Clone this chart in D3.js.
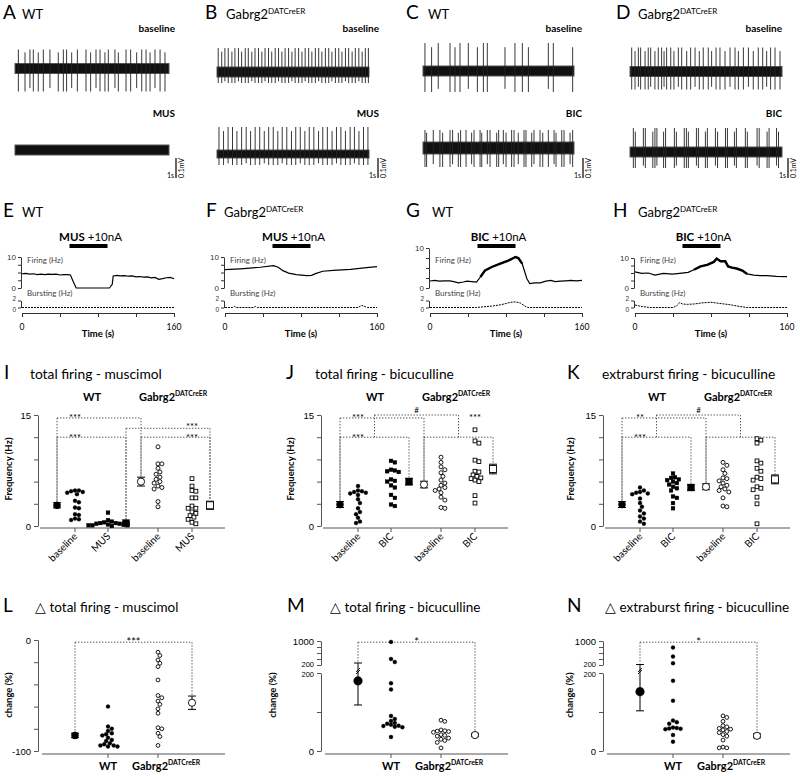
<!DOCTYPE html>
<html>
<head>
<meta charset="utf-8">
<script src="https://cdn.jsdelivr.net/npm/d3@7"></script>
<style>
  body { margin: 0; background: #fff; }
  svg { font-family: Lato, "Open Sans", sans-serif; }
</style>
</head>
<body>
<svg id="fig" width="800" height="776"></svg>
<script>
// ---------------- data ----------------
// A-D: spike times (s) inside 10 s extracellular traces
const spikesAbase = [0.22,0.65,0.97,1.19,1.51,1.84,2.27,2.81,3.14,3.35,3.68,4.05,4.61,4.91,5.26,5.52,5.84,6.06,6.49,6.71,7.21,7.51,7.90,8.23,8.51,8.77,9.09,9.42,9.74];
const spikesAmus = [];
const spikesBbase = [0.08,0.31,0.52,0.74,0.98,1.18,1.41,1.62,1.86,2.06,2.29,2.50,2.73,2.95,3.16,3.39,3.60,3.83,4.05,4.27,4.48,4.71,4.93,5.14,5.37,5.59,5.80,6.03,6.24,6.47,6.69,6.90,7.13,7.35,7.56,7.79,8.01,8.22,8.45,8.66,8.89,9.10,9.33,9.55,9.76,9.96];
const spikesBmus = [0.13,0.43,0.73,1.02,1.31,1.62,1.92,2.21,2.51,2.81,3.11,3.40,3.70,4.00,4.29,4.59,4.90,5.18,5.48,5.78,6.07,6.37,6.68,6.96,7.26,7.57,7.86,8.15,8.45,8.76,9.04,9.34,9.64,9.93];
const spikesCbase = [0.13,0.57,1.01,1.79,2.12,2.45,3.00,3.60,4.00,4.26,5.43,6.09,6.58,6.98,8.30,8.63,9.91];
const spikesCbic = [0.13,0.24,0.68,1.12,1.30,1.79,1.96,2.34,2.49,2.85,3.22,3.38,3.78,3.89,4.26,4.44,4.88,5.01,5.32,5.50,5.87,6.03,6.31,6.69,6.82,7.20,7.35,7.75,7.93,8.30,8.68,8.81,9.19,9.34,9.74,9.91];
const spikesDbase = [0.11,0.33,0.55,0.70,0.99,1.20,1.36,1.64,1.86,2.08,2.24,2.41,2.68,2.89,3.18,3.40,3.73,3.99,4.28,4.56,4.82,5.15,5.37,5.66,5.92,6.25,6.58,6.91,7.13,7.46,7.79,8.11,8.44,8.73,8.99,9.25,9.54,9.87];
const spikesDbic = [0.22,0.35,0.88,1.01,1.50,1.64,1.77,2.21,2.34,2.92,3.05,3.57,3.71,3.84,4.37,4.50,4.96,5.09,5.62,5.76,6.28,6.41,6.87,7.00,7.59,7.72,8.36,8.50,9.02,9.15,9.64,9.77];

// E-H: rate traces [time s, Hz]
const firingE = [[0,4.6],[4,4.7],[8,4.5],[12,4.6],[16,4.3],[20,4.5],[24,4.3],[28,4.5],[32,4.4],[36,4.5],[40,4.2],[44,4.3],[48,4.3],[51,4.2],[54,2.0],[57,0],[92,0],[95,1.2],[96,3.9],[100,4.1],[104,3.9],[108,4.0],[112,3.8],[116,3.9],[120,3.6],[124,3.7],[128,3.5],[132,3.6],[136,3.3],[140,3.4],[144,2.8],[148,3.0],[152,3.3],[156,3.4],[160,3.0]];
const burstE = [[0,0],[160,0]];
const firingF = [[0,5.9],[16,6.2],[37,6.7],[51,7.2],[56,6.7],[61,5.6],[67,4.8],[75,4.3],[86,4.0],[91,4.1],[96,4.7],[103,5.4],[114,5.7],[132,6.0],[149,6.6],[160,6.9]];
const burstF = [[0,0],[8,0],[10,0.3],[12,0],[30,0],[32,0.3],[34,0],[140,0],[144,0.6],[148,0.2],[150,0],[160,0]];
const firingG = [[0,1.75],[5,1.9],[10,1.7],[15,1.8],[21,1.8],[25,1.6],[30,1.3],[35,1.5],[39,1.7],[44,1.6],[49,1.5],[53,2.75],[58,4.4],[65,5.25],[74,6.1],[83,6.9],[90,7.75],[93,7.5],[97,6.1],[102,2.3],[105,1.1],[110,1.3],[116,1.3],[122,1.7],[127,1.9],[132,1.6],[137,1.7],[143,1.8],[148,1.9],[154,1.8],[160,1.9]];
const burstG = [[0,0],[48,0],[55,0.15],[65,0.4],[75,0.8],[85,1.5],[90,1.6],[95,1.3],[100,0.4],[103,0],[160,0]];
const firingH = [[0,5.4],[7,4.9],[14,5.0],[21,4.3],[30,4.9],[39,4.6],[47,4.9],[56,5.2],[62,6.1],[69,7.2],[76,7.7],[83,8.7],[86,9.8],[90,8.9],[95,8.9],[98,7.2],[102,6.8],[107,6.5],[113,5.8],[118,4.7],[125,4.3],[132,4.1],[139,4.1],[149,3.9],[160,3.8]];
const burstH = [[0,0.7],[5,0.4],[12,0.1],[16,0],[40,0],[44,0.5],[47,1.4],[50,1.0],[55,0.9],[62,1.0],[70,1.3],[80,1.5],[88,1.2],[100,0.8],[110,0.3],[118,0],[160,0]];

// I-K: frequency (Hz) per cell; groups = WT baseline, WT drug, KO baseline, KO drug
const iWTbase = [4.8,4.8,4.7,4.6,4.5,4.3,3.4,3.2,2.5,2.4,1.6,1.5,1.0,0.9,0.8];
const iWTmus  = [1.8,0.8,0.6,0.5,0.4,0.4,0.3,0.3,0.2,0.2,0.1,0.1,0.1,0.0];
const iKObase = [10.7,8.4,8.4,7.8,7.3,7.0,6.6,6.3,6.0,5.8,5.4,5.2,5.0,3.3,2.6];
const iKOmus  = [6.4,5.4,4.8,4.7,3.8,3.8,2.7,2.4,2.4,1.9,1.7,1.4,1.2,0.9,0.5,0.3];
const iMean = [2.8,0.4,6.0,2.8];
const iSem  = [0.35,0.15,0.6,0.55];

const jWTbase = [5.4,4.8,4.7,4.6,4.5,4.4,4.2,3.6,3.1,2.4,1.9,1.6,1.1,0.6,0.4];
const jWTbic  = [8.8,8.6,7.6,7.5,7.4,7.3,6.3,6.1,6.0,5.5,5.2,4.2,3.8,2.9,2.7];
const jKObase = [9.3,8.6,8.0,7.6,7.2,6.7,6.2,5.8,5.5,5.2,5.0,4.8,4.5,3.9,3.5,2.5,2.4];
const jKObic  = [13.0,11.5,11.2,8.9,8.7,7.4,7.3,6.9,6.7,6.5,6.4,6.2,6.0,4.1,3.1];
const jMean = [2.9,6.0,5.6,7.7];
const jSem  = [0.4,0.45,0.45,0.65];

const kWTbase = [5.2,4.8,4.6,4.5,4.4,4.3,3.7,3.1,2.6,2.1,1.7,1.3,1.0,0.6,0.3];
const kWTbic  = [7.1,6.6,6.5,6.3,6.2,6.0,5.8,5.6,5.3,5.1,4.8,4.0,3.8,3.1,2.4];
const kKObase = [8.6,8.2,7.6,7.1,6.5,6.4,6.1,5.8,5.5,5.3,5.0,4.8,4.6,3.8,2.7,2.6];
const kKObic  = [11.8,11.6,11.2,8.8,8.5,7.8,7.4,6.6,6.4,6.2,5.3,5.1,4.9,3.9,3.0,0.3];
const kMean = [2.9,5.2,5.3,6.3];
const kSem  = [0.4,0.35,0.4,0.6];

const muscimolTicks = ['baseline','MUS','baseline','MUS'];
const bicTicks = ['baseline','BIC','baseline','BIC'];

// L-N: change (%) per cell
const lWT = [-60,-78,-80,-82,-84,-85,-86,-88,-90,-91,-93,-94,-95,-95,-96,-96];
const lKO = [-11,-14,-18,-21,-24,-36,-50,-52,-55,-58,-62,-66,-79,-80,-84,-87,-95];
const lMean = [-86,-56.5];
const lLow  = [-88,-62.5];
const lHigh = [-84,-50.5];

const mWT = [970,400,300,174,158,90,82,77,72,70,67,65,64,62,61,36];
const mKO = [79,76,54,52,51,50,48,42,40,38,33,30,27,22,8];
const mMean = [180,41];
const mLow  = [118,37];
const mHigh = [267,45];

const nWT = [780,480,260,180,129,78,74,70,60,59,58,57,56,41,24];
const nKO = [90,86,76,65,62,58,56,54,50,47,42,38,28,10,8,8];
const nMean = [152,39];
const nLow  = [103,34];
const nHigh = [215,44];

// significance annotations (slot indices, levels in data units)
const iBrackets = [
  {a:0, b:4, lvl:14.6, txt:'***', tx:1},
  {a:0, b:3, lvl:12.0, txt:'***', tx:1},
  {a:3, b:7, lvl:13.2, txt:'***', tx:6, tl:13.5},
  {a:4, b:7, lvl:12.0, txt:'***', tx:6}
];
const jBrackets = [
  {a:0, b:4, lvl:14.6, txt:'***', tx:1},
  {a:0, b:3, lvl:12.0, txt:'***', tx:1},
  {a:4, b:7, lvl:12.0, txt:'***', tx:6, tl:14.6}
];
const kBrackets = [
  {a:0, b:4, lvl:14.6, txt:'**', tx:1},
  {a:0, b:3, lvl:12.0, txt:'***', tx:1},
  {a:4, b:7, lvl:12.0, txt:'', tx:6}
];

// ---------------- drawing ----------------
const svg = d3.select('#fig');
const DOT = '1.4,1.6';

function letter(x, y, s) {
  svg.append('text').attr('x', x).attr('y', y).attr('font-size', 19).text(s);
}
function geno(sel, x, y, isWT, size, anchor, bold) {
  const t = sel.append('text').attr('x', x).attr('y', y).attr('font-size', size)
    .attr('text-anchor', anchor || 'start').attr('font-weight', bold ? 'bold' : 'normal');
  if (isWT) t.text('WT');
  else {
    t.append('tspan').text('Gabrg2');
    t.append('tspan').attr('font-size', size * 0.62).attr('dy', -size * 0.42).text('DATCreER');
  }
  return t;
}

// --- A-D raw traces ---
const tracePanels = [
  {L:'A', wt:true,  lx:3,   gx:22,  x0:15,  x1:169, labX:175, bar:176,
   rows:[{sp:spikesAbase, yc:68.5, band:10, up:19, dn:23, lab:'baseline', ly:32},
         {sp:spikesAmus,  yc:150,  band:10, up:0,  dn:0,  lab:'MUS', ly:117}]},
  {L:'B', wt:false, lx:205, gx:226, x0:217, x1:369, labX:379, bar:378,
   rows:[{sp:spikesBbase, yc:72,  band:10, up:24, dn:11, lab:'baseline', ly:32},
         {sp:spikesBmus,  yc:154, band:8,  up:27, dn:11, lab:'MUS', ly:117}]},
  {L:'C', wt:true,  lx:406, gx:428, x0:423, x1:574, labX:582, bar:583,
   rows:[{sp:spikesCbase, yc:71,  band:10, up:28, dn:21, lab:'baseline', ly:32},
         {sp:spikesCbic,  yc:148, band:12, up:18, dn:19, lab:'BIC', ly:117}]},
  {L:'D', wt:false, lx:616, gx:638, x0:630, x1:782, labX:782, bar:788,
   rows:[{sp:spikesDbase, yc:71.5, band:10, up:24, dn:18, lab:'baseline', ly:32},
         {sp:spikesDbic,  yc:152,  band:10, up:24, dn:16, lab:'BIC', ly:117}]}
];

tracePanels.forEach(p => {
  letter(p.lx, 19, p.L);
  geno(svg, p.gx, 19, p.wt, 13);
  const x = d3.scaleLinear().domain([0, 10]).range([p.x0, p.x1]);
  p.rows.forEach(r => {
    svg.append('rect').attr('x', p.x0).attr('y', r.yc - r.band / 2)
      .attr('width', p.x1 - p.x0).attr('height', r.band).attr('fill', '#111')
      .attr('stroke', '#555').attr('stroke-width', 1);
    // spikes: alternate slightly taller / shorter as in the recordings
    svg.append('g').selectAll('line').data(r.sp).join('line')
      .attr('x1', d => x(d)).attr('x2', d => x(d))
      .attr('y1', (d, i) => r.yc - r.up * (i % 3 === 1 ? 0.85 : 1))
      .attr('y2', (d, i) => r.yc + r.dn * (i % 4 === 2 ? 0.85 : 1))
      .attr('stroke', '#222').attr('stroke-width', 0.9);
    svg.append('text').attr('x', p.labX).attr('y', r.ly).attr('text-anchor', 'end')
      .attr('font-size', 10).attr('font-weight', 'bold').text(r.lab);
  });
  svg.append('line').attr('x1', p.bar).attr('x2', p.bar).attr('y1', 158).attr('y2', 178)
    .attr('stroke', '#000').attr('stroke-width', 1.2);
  svg.append('text').attr('x', p.bar - 2).attr('y', 178).attr('text-anchor', 'end')
    .attr('font-size', 7).text('1s');
  svg.append('text').attr('transform', `translate(${p.bar + 8},168) rotate(-90)`)
    .attr('text-anchor', 'middle').attr('font-size', 7).text('0.1mV');
});

// --- E-H rate traces ---
const ratePanels = [
  {L:'E', wt:true,  lx:3,   gx:22,  x0:22,  drug:'MUS', f:firingE, b:burstE, top:257, thick:null},
  {L:'F', wt:false, lx:206, gx:224, x0:225, drug:'MUS', f:firingF, b:burstF, top:257, thick:null},
  {L:'G', wt:true,  lx:406, gx:432, x0:430, drug:'BIC', f:firingG, b:burstG, top:248, thick:[53,97]},
  {L:'H', wt:false, lx:613, gx:638, x0:635, drug:'BIC', f:firingH, b:burstH, top:258, thick:[62,118]}
];

ratePanels.forEach(p => {
  letter(p.lx, 217, p.L);
  geno(svg, p.gx, 217, p.wt, 13);
  const x = d3.scaleLinear().domain([0, 160]).range([p.x0, p.x0 + 152]);
  const yF = d3.scaleLinear().domain([0, 10]).range([288, p.top]);
  const yB = d3.scaleLinear().domain([0, 2]).range([307.5, 300.5]);
  const g = svg.append('g');

  // application bar + header
  g.append('rect').attr('x', x(50)).attr('y', 244).attr('width', x(90) - x(50)).attr('height', 4).attr('fill', '#000');
  const h = g.append('text').attr('x', x(70) + 2).attr('y', 241).attr('text-anchor', 'middle').attr('font-size', 11.5);
  h.append('tspan').attr('font-weight', 'bold').text(p.drug);
  h.append('tspan').text(' +10nA');

  // axes
  const ay = g.append('g').attr('transform', `translate(${p.x0 - 1},0)`)
    .call(d3.axisLeft(yF).tickValues([0, 2.5, 5, 7.5, 10]).tickSize(3).tickSizeOuter(0).tickPadding(2)
      .tickFormat(d => (d === 0 || d === 10) ? d : ''));
  ay.selectAll('text').attr('font-size', 8);
  const ab = g.append('g').attr('transform', `translate(${p.x0 - 1},0)`)
    .call(d3.axisLeft(yB).tickValues([0, 2]).tickSize(3).tickSizeOuter(0).tickPadding(2).tickFormat(d3.format('d')));
  ab.selectAll('text').attr('font-size', 6.5).attr('dy', d => d === 2 ? '-0.05em' : '0.6em');
  [ay, ab].forEach(a => a.selectAll('text').attr('font-family', null).attr('fill', '#333'));
  [ay, ab].forEach(a => a.selectAll('path,line').attr('stroke', '#333'));
  const ax = g.append('g').attr('transform', 'translate(0,313)')
    .call(d3.axisBottom(x).tickValues([0, 40, 80, 120, 160]).tickSize(4).tickSizeOuter(0).tickFormat(''));
  ax.selectAll('path,line').attr('stroke', '#333');
  g.append('text').attr('x', x(0)).attr('y', 330).attr('text-anchor', 'middle').attr('font-size', 8.5).text('0');
  g.append('text').attr('x', x(160)).attr('y', 330).attr('text-anchor', 'middle').attr('font-size', 8.5).text('160');
  g.append('text').attr('x', x(80)).attr('y', 337).attr('text-anchor', 'middle').attr('font-size', 9.5)
    .attr('font-weight', 'bold').text('Time (s)');
  g.append('text').attr('x', p.x0 + 5).attr('y', 263).attr('font-size', 8).attr('fill', '#444').text('Firing (Hz)');
  g.append('text').attr('x', p.x0 + 5).attr('y', 296).attr('font-size', 8).attr('fill', '#444').text('Bursting (Hz)');

  // traces
  const lf = d3.line().x(d => x(d[0])).y(d => yF(d[1]));
  const lb = d3.line().x(d => x(d[0])).y(d => yB(d[1]));
  g.append('path').attr('d', lf(p.f)).attr('fill', 'none').attr('stroke', '#000').attr('stroke-width', 1.2);
  if (p.thick) {
    g.append('path').attr('d', lf(p.f.filter(d => d[0] >= p.thick[0] && d[0] <= p.thick[1])))
      .attr('fill', 'none').attr('stroke', '#000').attr('stroke-width', 2.4);
  }
  g.append('path').attr('d', lb(p.b)).attr('fill', 'none').attr('stroke', '#000')
    .attr('stroke-width', 1).attr('stroke-dasharray', '2,1');
});

// --- shared marker helpers ---
function mark(g, shape, x, y, s) {
  const filled = shape[0] === 'f';
  let m;
  if (shape[1] === 'c') m = g.append('circle').attr('cx', x).attr('cy', y).attr('r', s);
  else m = g.append('rect').attr('x', x - s).attr('y', y - s).attr('width', 2 * s).attr('height', 2 * s);
  m.attr('fill', filled ? '#000' : '#fff').attr('stroke', '#000').attr('stroke-width', filled ? 0.3 : 0.9);
}
function swarm(vals, y, cx, d) {
  const pts = vals.map(v => ({v, y: y(v)})).sort((a, b) => a.y - b.y);
  const placed = [];
  pts.forEach(p => {
    for (let k = 0; k < 40; k++) {
      const off = k === 0 ? 0 : (k % 2 ? 1 : -1) * Math.ceil(k / 2) * d * 0.5;
      const x = cx + off;
      if (placed.every(q => Math.hypot(q.x - x, q.y - p.y) >= d)) { p.x = x; placed.push(p); break; }
    }
  });
  return placed;
}
function errBar(g, x, y1, y2, w) {
  g.append('line').attr('x1', x).attr('x2', x).attr('y1', y1).attr('y2', y2).attr('stroke', '#000').attr('stroke-width', 1);
  [y1, y2].forEach(yy => g.append('line').attr('x1', x - w).attr('x2', x + w).attr('y1', yy).attr('y2', yy)
    .attr('stroke', '#000').attr('stroke-width', 1));
}
function dotted(g, x1, y1, x2, y2) {
  g.append('line').attr('x1', x1).attr('x2', x2).attr('y1', y1).attr('y2', y2)
    .attr('stroke', '#444').attr('stroke-width', 0.9).attr('stroke-dasharray', DOT);
}

// --- I-K frequency panels ---
const slotKeys = ['m0', 'p0', 'p1', 'm1', 'm2', 'p2', 'p3', 'm3'];
const slotX = [57, 75, 108, 126, 141, 158, 192, 210];
const meanSlot = [0, 3, 4, 7];
const ptSlot = [1, 2, 5, 6];
const meanShape = ['fc', 'fs', 'oc', 'os'];

function freqPanel(ox, cfg) {
  const g = svg.append('g').attr('transform', `translate(${ox},0)`);
  const y = d3.scaleLinear().domain([0, 15]).range([526, 415]);
  const xs = d3.scaleOrdinal().domain(slotKeys).range(slotX);
  const sx = i => xs(slotKeys[i]);

  letter(ox + cfg.lx, 379, cfg.L);
  svg.append('text').attr('x', ox + cfg.tx).attr('y', 379).attr('font-size', 13.8).text(cfg.title);
  geno(g, 92, 401, true, 11, 'middle', true);
  geno(g, 173, 401, false, 11, 'middle', true);

  const ay = g.append('g').attr('transform', 'translate(38,0)')
    .call(d3.axisLeft(y).tickValues([0, 3, 6, 9, 12, 15]).tickSize(4).tickSizeOuter(0).tickPadding(3)
      .tickFormat(d => (d === 0 || d === 15) ? d : ''));
  ay.selectAll('text').attr('font-size', 9.5).attr('font-family', null);
  ay.selectAll('path,line').attr('stroke', '#555');
  g.append('text').attr('transform', `translate(${cfg.ylx},469) rotate(-90)`).attr('text-anchor', 'middle')
    .attr('font-size', 9.5).attr('font-weight', 'bold').text('Frequency (Hz)');

  g.append('line').attr('x1', 40).attr('x2', 225).attr('y1', 528).attr('y2', 528).attr('stroke', '#555');
  ptSlot.forEach((s, i) => {
    g.append('line').attr('x1', sx(s)).attr('x2', sx(s)).attr('y1', 528).attr('y2', 532).attr('stroke', '#555');
    g.append('text').attr('transform', `translate(${sx(s) + 3},537) rotate(-45)`).attr('text-anchor', 'end')
      .attr('font-size', 10).text(cfg.ticks[i]);
  });

  // brackets
  cfg.brackets.forEach(b => {
    const ia = meanSlot.indexOf(b.a), ib = meanSlot.indexOf(b.b);
    dotted(g, sx(b.a), y(b.lvl), sx(b.b), y(b.lvl));
    dotted(g, sx(b.a), y(b.lvl), sx(b.a), y(cfg.mean[ia] + cfg.sem[ia]) - 1);
    dotted(g, sx(b.b), y(b.lvl), sx(b.b), y(cfg.mean[ib] + cfg.sem[ib]) - 1);
    if (b.txt) g.append('text').attr('x', sx(b.tx)).attr('y', y(b.tl || b.lvl) + 3.5).attr('text-anchor', 'middle')
      .attr('font-size', 9.5).text(b.txt);
  });
  if (cfg.hash) {
    const xa = (sx(0) + sx(3)) / 2, xb = (sx(4) + sx(7)) / 2;
    dotted(g, xa, y(15), xb, y(15));
    dotted(g, xa, y(15), xa, y(12));
    dotted(g, xb, y(15), xb, y(12));
    g.append('text').attr('x', (xa + xb) / 2).attr('y', y(15) - 2).attr('text-anchor', 'middle')
      .attr('font-size', 8).text('#');
  }

  // means
  cfg.mean.forEach((m, i) => {
    const x = sx(meanSlot[i]);
    errBar(g, x, y(m - cfg.sem[i]), y(m + cfg.sem[i]), 4);
    mark(g, meanShape[i], x, y(m), meanShape[i][1] === 'c' ? 3.6 : 3.5);
  });
  // individual cells
  cfg.groups.forEach((vals, i) => {
    swarm(vals, y, sx(ptSlot[i]), 3.9).forEach(p => mark(g, meanShape[i], p.x, p.y, meanShape[i][1] === 'c' ? 2.0 : 1.9));
  });
}

freqPanel(0, {L:'I', lx:4, tx:30, title:'total firing - muscimol', ylx:12, ticks:muscimolTicks,
  groups:[iWTbase, iWTmus, iKObase, iKOmus], mean:iMean, sem:iSem, brackets:iBrackets, hash:false});
freqPanel(283, {L:'J', lx:3, tx:32, title:'total firing - bicuculline', ylx:11, ticks:bicTicks,
  groups:[jWTbase, jWTbic, jKObase, jKObic], mean:jMean, sem:jSem, brackets:jBrackets, hash:true});
freqPanel(565, {L:'K', lx:2, tx:37, title:'extraburst firing - bicuculline', ylx:9, ticks:bicTicks,
  groups:[kWTbase, kWTbic, kKObase, kKObic], mean:kMean, sem:kSem, brackets:kBrackets, hash:true});

// --- L-N change panels ---
const chKeys = ['wtMean', 'wtPts', 'koPts', 'koMean'];
const chX = [75, 108, 158, 192];

function changePanel(ox, cfg) {
  const g = svg.append('g').attr('transform', `translate(${ox},0)`);
  const xs = d3.scaleOrdinal().domain(chKeys).range(chX);
  const y = cfg.y;

  letter(ox + cfg.lx, 612, cfg.L);
  svg.append('text').attr('x', ox + cfg.tx).attr('y', 612).attr('font-size', 13.5).text('\u25B3 ' + cfg.title);

  cfg.axes(g);
  g.append('text').attr('transform', `translate(${cfg.ylx},695) rotate(-90)`).attr('text-anchor', 'middle')
    .attr('font-size', 9.5).attr('font-weight', 'bold').text('change (%)');

  g.append('line').attr('x1', 42).attr('x2', 225).attr('y1', 754).attr('y2', 754).attr('stroke', '#555');
  ['wtPts', 'koPts'].forEach(k => g.append('line').attr('x1', xs(k)).attr('x2', xs(k))
    .attr('y1', 754).attr('y2', 758).attr('stroke', '#555'));
  geno(g, xs('wtPts'), 770, true, 11, 'middle', true);
  geno(g, xs('koPts') + 8, 770, false, 11, 'middle', true);

  // bracket
  const yb = y(cfg.blvl);
  dotted(g, xs('wtMean'), yb, xs('koMean'), yb);
  dotted(g, xs('wtMean'), yb, xs('wtMean'), y(cfg.high[0]) - 1);
  dotted(g, xs('koMean'), yb, xs('koMean'), y(cfg.high[1]) - 1);
  g.append('text').attr('x', (xs('wtMean') + xs('koMean')) / 2).attr('y', yb + 4).attr('text-anchor', 'middle')
    .attr('font-size', 11).text(cfg.txt);

  // means
  errBar(g, xs('wtMean'), y(cfg.low[0]), y(cfg.high[0]), 4);
  if (cfg.brk) {
    const yy = cfg.brk;
    g.append('line').attr('x1', xs('wtMean') - 2).attr('x2', xs('wtMean') + 2).attr('y1', yy + 2).attr('y2', yy - 2)
      .attr('stroke', '#000').attr('stroke-width', 0.9);
    g.append('line').attr('x1', xs('wtMean') - 2).attr('x2', xs('wtMean') + 2).attr('y1', yy + 4).attr('y2', yy)
      .attr('stroke', '#000').attr('stroke-width', 0.9);
  }
  mark(g, 'fc', xs('wtMean'), y(cfg.mean[0]), cfg.r);
  errBar(g, xs('koMean'), y(cfg.low[1]), y(cfg.high[1]), 4);
  mark(g, 'oc', xs('koMean'), y(cfg.mean[1]), 3.6);

  swarm(cfg.wt, y, xs('wtPts'), 3.8).forEach(p => mark(g, 'fc', p.x, p.y, 2.0));
  swarm(cfg.ko, y, xs('koPts'), 3.8).forEach(p => mark(g, 'oc', p.x, p.y, 1.9));
}

function styleAxis(a) {
  a.selectAll('text').attr('font-size', 9.5).attr('font-family', null);
  a.selectAll('path,line').attr('stroke', '#555');
  return a;
}

// L: linear percent axis
const yL = d3.scaleLinear().domain([-100, 0]).range([751, 640]);
changePanel(0, {L:'L', lx:3, tx:35, title:'total firing - muscimol', ylx:12, y:yL,
  wt:lWT, ko:lKO, mean:lMean, low:lLow, high:lHigh, blvl:-2, txt:'***', r:3.6,
  axes: g => styleAxis(g.append('g').attr('transform', 'translate(38,0)')
    .call(d3.axisLeft(yL).tickValues([0, -20, -40, -60, -80, -100]).tickSize(4).tickSizeOuter(0).tickPadding(3)
      .tickFormat(d => (d === 0 || d === -100) ? d : '')))});

// M, N: broken axis (0-200 linear, 200-1000 compressed)
function brokenAxis() {
  const lo = d3.scaleLinear().domain([0, 200]).range([751, 673]);
  const hi = d3.scaleLinear().domain([200, 1000]).range([665, 641]);
  const y = v => v <= 200 ? lo(v) : hi(v);
  const axes = g => {
    styleAxis(g.append('g').attr('transform', 'translate(38,0)')
      .call(d3.axisLeft(lo).tickValues([0, 100, 200]).tickSize(4).tickSizeOuter(0).tickPadding(3)
        .tickFormat(d => d === 100 ? '' : d)))
      .selectAll('text').filter(d => d === 200).attr('font-size', 7.5).attr('dy', '0.45em');
    styleAxis(g.append('g').attr('transform', 'translate(38,0)')
      .call(d3.axisLeft(hi).tickValues([200, 400, 600, 800, 1000]).tickSize(4).tickSizeOuter(0).tickPadding(3)
        .tickFormat(d => (d === 200 || d === 1000) ? d : '')))
      .selectAll('text').filter(d => d === 200).attr('font-size', 7.5).attr('dy', '0.15em');
  };
  return {y, axes};
}
const axM = brokenAxis();
changePanel(283, {L:'M', lx:4, tx:47, title:'total firing - bicuculline', ylx:-7, y:axM.y,
  wt:mWT, ko:mKO, mean:mMean, low:mLow, high:mHigh, blvl:960, txt:'*', r:4.4, brk:670, axes:axM.axes});
const axN = brokenAxis();
changePanel(565, {L:'N', lx:2, tx:40, title:'extraburst firing - bicuculline', ylx:8, y:axN.y,
  wt:nWT, ko:nKO, mean:nMean, low:nLow, high:nHigh, blvl:960, txt:'*', r:4.4, brk:670, axes:axN.axes});
</script>
</body>
</html>
